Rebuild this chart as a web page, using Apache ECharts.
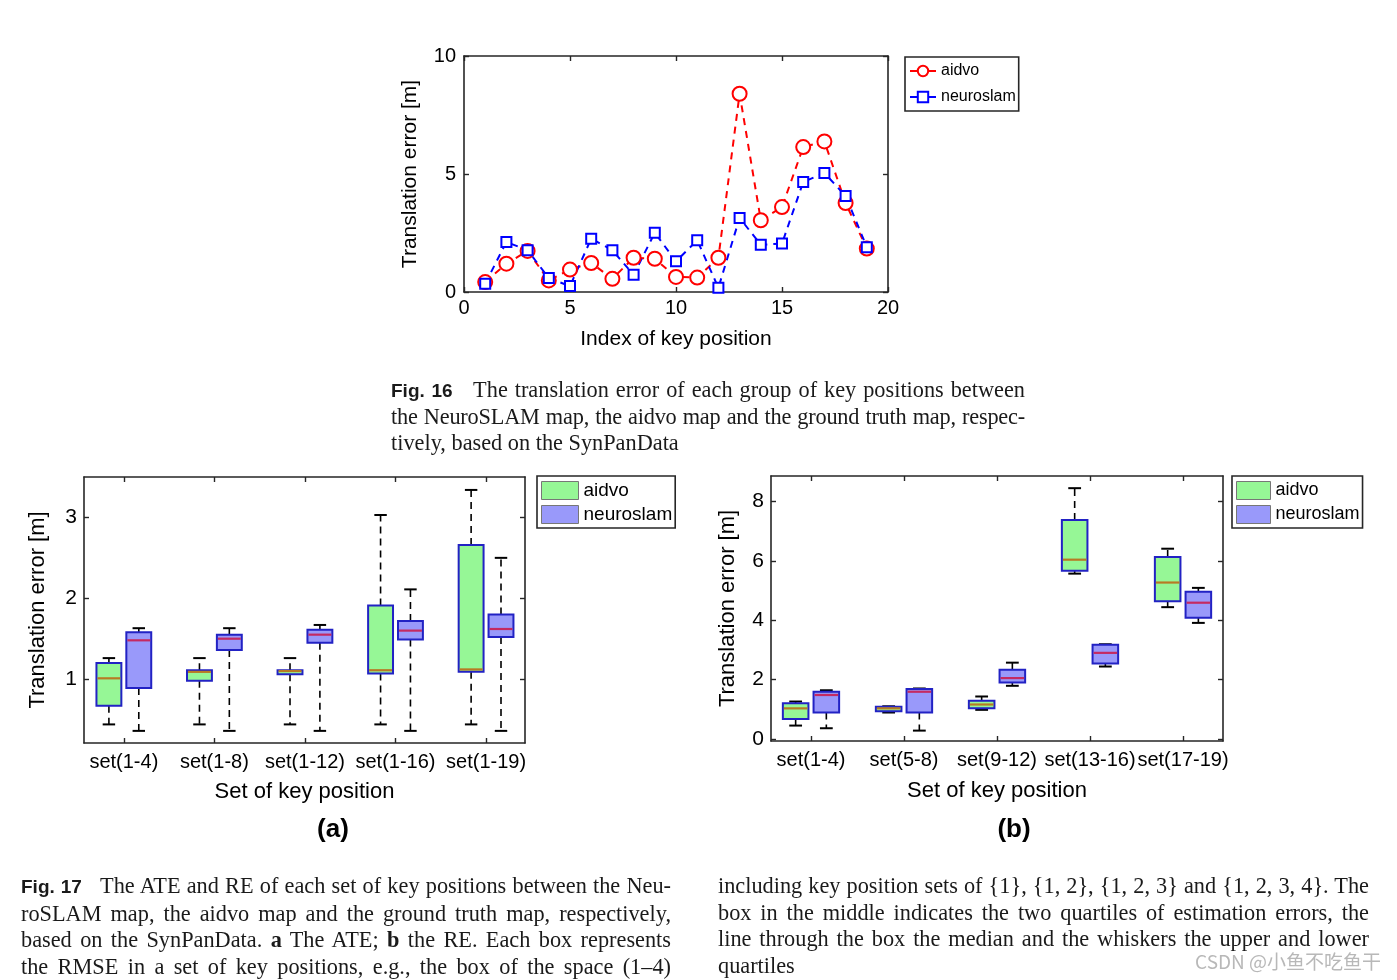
<!DOCTYPE html>
<html>
<head>
<meta charset="utf-8">
<script src="https://cdn.jsdelivr.net/npm/echarts@6/dist/echarts.min.js"></script>
<style>
  html, body { margin: 0; padding: 0; background: #fff; }
  #chart { position: absolute; left: 0; top: 0; width: 1397px; height: 980px; }
  .cap { position: absolute; font-family: 'Liberation Serif', 'DejaVu Serif', serif; font-size: 22.3px; line-height: 26.5px; color: #1a1a1a; }
  .cap .l { text-align: justify; text-align-last: justify; white-space: nowrap; }
  .cap .e { text-align: left; white-space: nowrap; }
  .cap .t { letter-spacing: -0.2px; }
  .cap .f { font-family: 'Liberation Sans Narrow', 'Liberation Sans', sans-serif; font-weight: bold; font-size: 19px; letter-spacing: 0; }
</style>
</head>
<body>
<div id="chart"></div>

<div class="cap" style="left:391px; top:377px; width:634px; line-height:26px;">
  <div class="l"><span class="f">Fig. 16</span>&nbsp;&nbsp; The translation error of each group of key positions between</div>
  <div class="l t">the NeuroSLAM map, the aidvo map and the ground truth map, respec-</div>
  <div class="e">tively, based on the SynPanData</div>
</div>

<div class="cap" style="left:21px; top:873px; width:650px;">
  <div class="l"><span class="f">Fig. 17</span>&nbsp;&nbsp; The ATE and RE of each set of key positions between the Neu-</div>
  <div class="l">roSLAM map, the aidvo map and the ground truth map, respectively,</div>
  <div class="l">based on the SynPanData. <b>a</b> The ATE; <b>b</b> the RE. Each box represents</div>
  <div class="l">the RMSE in a set of key positions, e.g., the box of the space (1–4)</div>
</div>

<div class="cap" style="left:718px; top:873px; width:651px;">
  <div class="l">including key position sets of {1}, {1, 2}, {1, 2, 3} and {1, 2, 3, 4}. The</div>
  <div class="l">box in the middle indicates the two quartiles of estimation errors, the</div>
  <div class="l">line through the box the median and the whiskers the upper and lower</div>
  <div class="e">quartiles</div>
</div>

<script>
// ---------------- DATA ----------------
const keyIndex = [1, 2, 3, 4, 5, 6, 7, 8, 9, 10, 11, 12, 13, 14, 15, 16, 17, 18, 19];
const aidvoError = [0.42, 1.20, 1.74, 0.49, 0.95, 1.23, 0.56, 1.45, 1.41, 0.64, 0.61, 1.45, 8.40, 3.04, 3.60, 6.14, 6.38, 3.77, 1.84];
const neuroslamError = [0.35, 2.12, 1.77, 0.59, 0.25, 2.26, 1.77, 0.73, 2.51, 1.30, 2.19, 0.18, 3.14, 2.00, 2.05, 4.66, 5.04, 4.07, 1.90];

const topXTicks = [0, 5, 10, 15, 20];
const topYTicks = [0, 5, 10];

// box stats: [lower whisker, q1, median, q3, upper whisker]
const ateSets = ['set(1-4)', 'set(1-8)', 'set(1-12)', 'set(1-16)', 'set(1-19)'];
const ateAidvo = [
  [0.44, 0.67, 1.01, 1.20, 1.26],
  [0.44, 0.98, 1.09, 1.11, 1.26],
  [0.44, 1.06, 1.10, 1.11, 1.26],
  [0.44, 1.07, 1.11, 1.91, 3.03],
  [0.44, 1.09, 1.12, 2.66, 3.34]
];
const ateNeuroslam = [
  [0.36, 0.89, 1.48, 1.58, 1.63],
  [0.36, 1.36, 1.50, 1.55, 1.63],
  [0.36, 1.45, 1.55, 1.61, 1.67],
  [0.36, 1.49, 1.60, 1.72, 2.11],
  [0.36, 1.52, 1.62, 1.80, 2.50]
];
const ateYTicks = [1, 2, 3];

const reSets = ['set(1-4)', 'set(5-8)', 'set(9-12)', 'set(13-16)', 'set(17-19)'];
const reAidvo = [
  [0.45, 0.67, 1.03, 1.20, 1.26],
  [0.89, 0.93, 1.03, 1.08, 1.10],
  [0.98, 1.03, 1.16, 1.29, 1.43],
  [5.57, 5.67, 6.04, 7.38, 8.45],
  [4.44, 4.64, 5.27, 6.13, 6.41]
];
const reNeuroslam = [
  [0.36, 0.89, 1.48, 1.59, 1.64],
  [0.28, 0.89, 1.59, 1.68, 1.70],
  [1.79, 1.90, 2.05, 2.33, 2.57],
  [2.44, 2.54, 2.90, 3.17, 3.19],
  [3.91, 4.08, 4.59, 4.96, 5.09]
];
const reYTicks = [0, 2, 4, 6, 8];
const setPositions = [1, 2, 3, 4, 5];

// ---------------- STYLE ----------------
const FONT = 'Liberation Sans';
const AXC = '#262626';
const GREEN = '#96f796';
const PURPLE = '#9999fa';
const EDGE = '#2222c4';
const MED_A = '#b87a24';
const MED_N = '#c42a62';
const BOXW = 0.275;
const OFF = 0.165;

function tick(vals) {
  return { show: true, inside: true, length: 5, lineStyle: { color: AXC, width: 1.4 }, customValues: vals };
}

function axisBase(extra) {
  return Object.assign({
    axisLine: { show: true, onZero: false, lineStyle: { color: AXC, width: 1.6 } },
    splitLine: { show: false },
    nameTextStyle: { color: '#000', fontSize: 21, fontFamily: FONT }
  }, extra);
}

function boxData(stats) {
  return stats.map((s, i) => [setPositions[i]].concat(s));
}

function boxRender(offset, fill, medColor) {
  return function (params, api) {
    const x = api.value(0) + offset;
    const lo = api.coord([x, api.value(1)]);
    const q1 = api.coord([x, api.value(2)]);
    const md = api.coord([x, api.value(3)]);
    const q3 = api.coord([x, api.value(4)]);
    const hi = api.coord([x, api.value(5)]);
    const bw = api.size([BOXW, 0])[0];
    const cx = md[0];
    const cw = bw * 0.5;
    const dash = { stroke: '#000', lineWidth: 1.6, lineDash: [7, 5] };
    const cap = { stroke: '#000', lineWidth: 2 };
    return {
      type: 'group',
      children: [
        { type: 'line', shape: { x1: cx, y1: q3[1], x2: cx, y2: hi[1] }, style: dash },
        { type: 'line', shape: { x1: cx, y1: q1[1], x2: cx, y2: lo[1] }, style: dash },
        { type: 'line', shape: { x1: cx - cw / 2, y1: hi[1], x2: cx + cw / 2, y2: hi[1] }, style: cap },
        { type: 'line', shape: { x1: cx - cw / 2, y1: lo[1], x2: cx + cw / 2, y2: lo[1] }, style: cap },
        { type: 'rect', shape: { x: cx - bw / 2, y: q3[1], width: bw, height: q1[1] - q3[1] },
          style: { fill: fill, stroke: EDGE, lineWidth: 2 } },
        { type: 'line', shape: { x1: cx - bw / 2 + 1, y1: md[1], x2: cx + bw / 2 - 1, y2: md[1] },
          style: { stroke: medColor, lineWidth: 2.2 } }
      ]
    };
  };
}

function boxSeries(name, stats, offset, fill, medColor, axisIdx) {
  return {
    type: 'custom', name: name,
    xAxisIndex: axisIdx, yAxisIndex: axisIdx,
    itemStyle: { color: fill },
    renderItem: boxRender(offset, fill, medColor),
    encode: { x: 0, y: [1, 2, 3, 4, 5] },
    data: boxData(stats),
    silent: true
  };
}

const stripName = (n) => n.replace(/_.*$/, '');
const boxLabel = (sets) => ({
  color: '#000', fontSize: 20, fontFamily: FONT, margin: 9, hideOverlap: false,
  customValues: setPositions, formatter: (v) => sets[Math.round(v) - 1]
});

const option = {
  backgroundColor: '#fff',
  animation: false,
  textStyle: { fontFamily: FONT },
  grid: [
    { left: 464, top: 56, width: 424, height: 236 },
    { left: 84, top: 477, width: 441, height: 266 },
    { left: 771, top: 476, width: 452, height: 265 }
  ],
  xAxis: [
    axisBase({ gridIndex: 0, type: 'value', min: 0, max: 20, position: 'bottom',
      name: 'Index of key position', nameLocation: 'middle', nameGap: 37,
      axisLabel: { color: '#000', fontSize: 20, fontFamily: FONT, margin: 6, customValues: topXTicks },
      axisTick: tick(topXTicks) }),
    axisBase({ gridIndex: 0, type: 'value', min: 0, max: 20, position: 'top',
      axisLabel: { show: false }, axisTick: tick(topXTicks) }),
    axisBase({ gridIndex: 1, type: 'value', min: 0.56, max: 5.43, position: 'bottom',
      name: 'Set of key position', nameLocation: 'middle', nameGap: 38,
      nameTextStyle: { color: '#000', fontSize: 22, fontFamily: FONT },
      axisLabel: boxLabel(ateSets), axisTick: tick(setPositions) }),
    axisBase({ gridIndex: 1, type: 'value', min: 0.56, max: 5.43, position: 'top',
      axisLabel: { show: false }, axisTick: tick(setPositions) }),
    axisBase({ gridIndex: 2, type: 'value', min: 0.57, max: 5.43, position: 'bottom',
      name: 'Set of key position', nameLocation: 'middle', nameGap: 39,
      nameTextStyle: { color: '#000', fontSize: 22, fontFamily: FONT },
      axisLabel: boxLabel(reSets), axisTick: tick(setPositions) }),
    axisBase({ gridIndex: 2, type: 'value', min: 0.57, max: 5.43, position: 'top',
      axisLabel: { show: false }, axisTick: tick(setPositions) })
  ],
  yAxis: [
    axisBase({ gridIndex: 0, type: 'value', min: 0, max: 10, position: 'left',
      name: 'Translation error [m]', nameLocation: 'middle', nameGap: 43,
      axisLabel: { color: '#000', fontSize: 20, fontFamily: FONT, margin: 8, customValues: topYTicks },
      axisTick: tick(topYTicks) }),
    axisBase({ gridIndex: 0, type: 'value', min: 0, max: 10, position: 'right',
      axisLabel: { show: false }, axisTick: tick(topYTicks) }),
    axisBase({ gridIndex: 1, type: 'value', min: 0.21, max: 3.5, position: 'left',
      name: 'Translation error [m]', nameLocation: 'middle', nameGap: 35,
      nameTextStyle: { color: '#000', fontSize: 22, fontFamily: FONT },
      axisLabel: { color: '#000', fontSize: 21, fontFamily: FONT, margin: 7, customValues: ateYTicks },
      axisTick: tick(ateYTicks) }),
    axisBase({ gridIndex: 1, type: 'value', min: 0.21, max: 3.5, position: 'right',
      axisLabel: { show: false }, axisTick: tick(ateYTicks) }),
    axisBase({ gridIndex: 2, type: 'value', min: -0.07, max: 8.86, position: 'left',
      name: 'Translation error [m]', nameLocation: 'middle', nameGap: 32,
      nameTextStyle: { color: '#000', fontSize: 22, fontFamily: FONT },
      axisLabel: { color: '#000', fontSize: 21, fontFamily: FONT, margin: 7, customValues: reYTicks },
      axisTick: tick(reYTicks) }),
    axisBase({ gridIndex: 2, type: 'value', min: -0.07, max: 8.86, position: 'right',
      axisLabel: { show: false }, axisTick: tick(reYTicks) })
  ],
  legend: [
    {
      left: 905, top: 57, orient: 'vertical', selectedMode: false,
      padding: [6, 3, 6, 4], itemGap: 10, itemWidth: 26, itemHeight: 13,
      borderColor: AXC, borderWidth: 1.6, backgroundColor: '#fff',
      lineStyle: { type: 'solid' },
      textStyle: { fontSize: 16, fontFamily: FONT, color: '#000' },
      data: ['aidvo', 'neuroslam']
    },
    {
      left: 537, top: 476, orient: 'vertical', selectedMode: false,
      padding: [5, 3, 4, 4], itemGap: 5, itemWidth: 37, itemHeight: 18,
      borderColor: AXC, borderWidth: 1.6, backgroundColor: '#fff',
      textStyle: { fontSize: 19, fontFamily: FONT, color: '#000' },
      formatter: stripName,
      data: [
        { name: 'aidvo_a', icon: 'rect', itemStyle: { color: GREEN, borderColor: '#777', borderWidth: 1 } },
        { name: 'neuroslam_a', icon: 'rect', itemStyle: { color: PURPLE, borderColor: '#777', borderWidth: 1 } }
      ]
    },
    {
      left: 1232, top: 476, orient: 'vertical', selectedMode: false,
      padding: [5, 3, 4, 4], itemGap: 5, itemWidth: 34, itemHeight: 18,
      borderColor: AXC, borderWidth: 1.6, backgroundColor: '#fff',
      textStyle: { fontSize: 18, fontFamily: FONT, color: '#000' },
      formatter: stripName,
      data: [
        { name: 'aidvo_b', icon: 'rect', itemStyle: { color: GREEN, borderColor: '#777', borderWidth: 1 } },
        { name: 'neuroslam_b', icon: 'rect', itemStyle: { color: PURPLE, borderColor: '#777', borderWidth: 1 } }
      ]
    }
  ],
  series: [
    {
      type: 'line', name: 'aidvo', xAxisIndex: 0, yAxisIndex: 0,
      data: keyIndex.map((k, i) => [k, aidvoError[i]]),
      symbol: 'emptyCircle', symbolSize: 14,
      itemStyle: { color: '#ff0000', borderWidth: 2 },
      lineStyle: { color: '#ff0000', width: 2, type: [7, 6] }
    },
    {
      type: 'line', name: 'neuroslam', xAxisIndex: 0, yAxisIndex: 0,
      data: keyIndex.map((k, i) => [k, neuroslamError[i]]),
      symbol: 'emptyRect', symbolSize: 10,
      itemStyle: { color: '#0000ff', borderWidth: 2 },
      lineStyle: { color: '#0000ff', width: 2, type: [7, 6] }
    },
    boxSeries('aidvo_a', ateAidvo, -OFF, GREEN, MED_A, 2),
    boxSeries('neuroslam_a', ateNeuroslam, OFF, PURPLE, MED_N, 2),
    boxSeries('aidvo_b', reAidvo, -OFF, GREEN, MED_A, 4),
    boxSeries('neuroslam_b', reNeuroslam, OFF, PURPLE, MED_N, 4)
  ],
  graphic: [
    { type: 'text', x: 333, y: 830, style: { text: '(a)', font: 'bold 26px "Liberation Sans"', fill: '#000', align: 'center', verticalAlign: 'middle' } },
    { type: 'text', x: 1014, y: 830, style: { text: '(b)', font: 'bold 26px "Liberation Sans"', fill: '#000', align: 'center', verticalAlign: 'middle' } },
    { type: 'text', x: 1381, y: 962, style: { text: 'CSDN @小鱼不吃鱼干', font: '19px "Noto Sans CJK SC"', fill: '#b8b8b8', align: 'right', verticalAlign: 'middle' } }
  ]
};

const chart = echarts.init(document.getElementById('chart'), null, { renderer: 'canvas', width: 1397, height: 980 });
chart.setOption(option);
</script>
</body>
</html>
